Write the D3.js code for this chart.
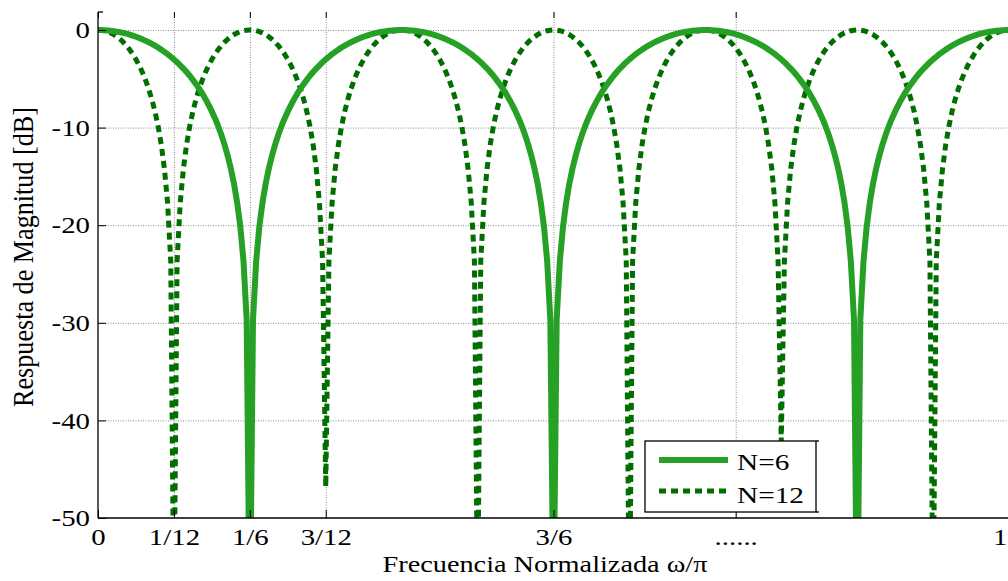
<!DOCTYPE html>
<html>
<head>
<meta charset="utf-8">
<script src="https://cdn.jsdelivr.net/npm/d3@7"></script>
<style>
  body { margin: 0; background: #fff; }
  svg { display: block; }
  text { font-family: "Liberation Serif", "Times New Roman", serif; fill: #000; }
</style>
</head>
<body>
<svg id="chart" width="1008" height="581"></svg>
<script>
// Magnitude response in dB, sampled uniformly over the normalized frequency 0..1 (289 samples)
const magN6 = [
  0,
  -0.01, -0.02, -0.04, -0.07, -0.12, -0.17, -0.23, -0.30, -0.38, -0.47, -0.58, -0.69, -0.81, -0.95, -1.09, -1.25,
  -1.42, -1.60, -1.80, -2.01, -2.24, -2.48, -2.74, -3.01, -3.30, -3.62, -3.95, -4.31, -4.69, -5.11, -5.55, -6.02,
  -6.53, -7.09, -7.69, -8.34, -9.06, -9.86, -10.74, -11.74, -12.88, -14.20, -15.76, -17.69, -20.17, -23.69, -29.70,
  -62,
  -29.70, -23.69, -20.17, -17.69, -15.76, -14.20, -12.88, -11.74, -10.74, -9.86, -9.06, -8.34, -7.69, -7.09, -6.53, -6.02,
  -5.55, -5.11, -4.69, -4.31, -3.95, -3.62, -3.30, -3.01, -2.74, -2.48, -2.24, -2.01, -1.80, -1.60, -1.42, -1.25,
  -1.09, -0.95, -0.81, -0.69, -0.58, -0.47, -0.38, -0.30, -0.23, -0.17, -0.12, -0.07, -0.04, -0.02, -0.01,
  0,
  -0.01, -0.02, -0.04, -0.07, -0.12, -0.17, -0.23, -0.30, -0.38, -0.47, -0.58, -0.69, -0.81, -0.95, -1.09, -1.25,
  -1.42, -1.60, -1.80, -2.01, -2.24, -2.48, -2.74, -3.01, -3.30, -3.62, -3.95, -4.31, -4.69, -5.11, -5.55, -6.02,
  -6.53, -7.09, -7.69, -8.34, -9.06, -9.86, -10.74, -11.74, -12.88, -14.20, -15.76, -17.69, -20.17, -23.69, -29.70,
  -60,
  -29.70, -23.69, -20.17, -17.69, -15.76, -14.20, -12.88, -11.74, -10.74, -9.86, -9.06, -8.34, -7.69, -7.09, -6.53, -6.02,
  -5.55, -5.11, -4.69, -4.31, -3.95, -3.62, -3.30, -3.01, -2.74, -2.48, -2.24, -2.01, -1.80, -1.60, -1.42, -1.25,
  -1.09, -0.95, -0.81, -0.69, -0.58, -0.47, -0.38, -0.30, -0.23, -0.17, -0.12, -0.07, -0.04, -0.02, -0.01,
  0,
  -0.01, -0.02, -0.04, -0.07, -0.12, -0.17, -0.23, -0.30, -0.38, -0.47, -0.58, -0.69, -0.81, -0.95, -1.09, -1.25,
  -1.42, -1.60, -1.80, -2.01, -2.24, -2.48, -2.74, -3.01, -3.30, -3.62, -3.95, -4.31, -4.69, -5.11, -5.55, -6.02,
  -6.53, -7.09, -7.69, -8.34, -9.06, -9.86, -10.74, -11.74, -12.88, -14.20, -15.76, -17.69, -20.17, -23.69, -29.70,
  -63,
  -29.70, -23.69, -20.17, -17.69, -15.76, -14.20, -12.88, -11.74, -10.74, -9.86, -9.06, -8.34, -7.69, -7.09, -6.53, -6.02,
  -5.55, -5.11, -4.69, -4.31, -3.95, -3.62, -3.30, -3.01, -2.74, -2.48, -2.24, -2.01, -1.80, -1.60, -1.42, -1.25,
  -1.09, -0.95, -0.81, -0.69, -0.58, -0.47, -0.38, -0.30, -0.23, -0.17, -0.12, -0.07, -0.04, -0.02, -0.01,
  0
];

const magN12 = [
  0,
  -0.02, -0.07, -0.17, -0.30, -0.47, -0.69, -0.95, -1.25, -1.60, -2.01, -2.48, -3.01, -3.62, -4.31, -5.11, -6.02,
  -7.09, -8.34, -9.86, -11.74, -14.20, -17.69, -23.69,
  -61,
  -23.69, -17.69, -14.20, -11.74, -9.86, -8.34, -7.09, -6.02, -5.11, -4.31, -3.62, -3.01, -2.48, -2.01, -1.60, -1.25,
  -0.95, -0.69, -0.47, -0.30, -0.17, -0.07, -0.02,
  0,
  -0.02, -0.07, -0.17, -0.30, -0.47, -0.69, -0.95, -1.25, -1.60, -2.01, -2.48, -3.01, -3.62, -4.31, -5.11, -6.02,
  -7.09, -8.34, -9.86, -11.74, -14.20, -17.69, -23.69,
  -46.8,
  -23.69, -17.69, -14.20, -11.74, -9.86, -8.34, -7.09, -6.02, -5.11, -4.31, -3.62, -3.01, -2.48, -2.01, -1.60, -1.25,
  -0.95, -0.69, -0.47, -0.30, -0.17, -0.07, -0.02,
  0,
  -0.02, -0.07, -0.17, -0.30, -0.47, -0.69, -0.95, -1.25, -1.60, -2.01, -2.48, -3.01, -3.62, -4.31, -5.11, -6.02,
  -7.09, -8.34, -9.86, -11.74, -14.20, -17.69, -23.69,
  -60,
  -23.69, -17.69, -14.20, -11.74, -9.86, -8.34, -7.09, -6.02, -5.11, -4.31, -3.62, -3.01, -2.48, -2.01, -1.60, -1.25,
  -0.95, -0.69, -0.47, -0.30, -0.17, -0.07, -0.02,
  0,
  -0.02, -0.07, -0.17, -0.30, -0.47, -0.69, -0.95, -1.25, -1.60, -2.01, -2.48, -3.01, -3.62, -4.31, -5.11, -6.02,
  -7.09, -8.34, -9.86, -11.74, -14.20, -17.69, -23.69,
  -62,
  -23.69, -17.69, -14.20, -11.74, -9.86, -8.34, -7.09, -6.02, -5.11, -4.31, -3.62, -3.01, -2.48, -2.01, -1.60, -1.25,
  -0.95, -0.69, -0.47, -0.30, -0.17, -0.07, -0.02,
  0,
  -0.02, -0.07, -0.17, -0.30, -0.47, -0.69, -0.95, -1.25, -1.60, -2.01, -2.48, -3.01, -3.62, -4.31, -5.11, -6.02,
  -7.09, -8.34, -9.86, -11.74, -14.20, -17.69, -23.69,
  -42.2,
  -23.69, -17.69, -14.20, -11.74, -9.86, -8.34, -7.09, -6.02, -5.11, -4.31, -3.62, -3.01, -2.48, -2.01, -1.60, -1.25,
  -0.95, -0.69, -0.47, -0.30, -0.17, -0.07, -0.02,
  0,
  -0.02, -0.07, -0.17, -0.30, -0.47, -0.69, -0.95, -1.25, -1.60, -2.01, -2.48, -3.01, -3.62, -4.31, -5.11, -6.02,
  -7.09, -8.34, -9.86, -11.74, -14.20, -17.69, -23.69,
  -61,
  -23.69, -17.69, -14.20, -11.74, -9.86, -8.34, -7.09, -6.02, -5.11, -4.31, -3.62, -3.01, -2.48, -2.01, -1.60, -1.25,
  -0.95, -0.69, -0.47, -0.30, -0.17, -0.07, -0.02,
  0
];

const xTickValues = [0, 1 / 12, 1 / 6, 3 / 12, 3 / 6, 0.7, 1];
const xTickLabels = ["0", "1/12", "1/6", "3/12", "3/6", "......", "1"];
const yTickValues = [0, -10, -20, -30, -40, -50];
const yTickLabels = ["0", "-10", "-20", "-30", "-40", "-50"];
const seriesNames = ["N=6", "N=12"];
const xTitle = "Frecuencia Normalizada \u03c9/\u03c0";
const yTitle = "Respuesta de Magnitud [dB]";

// sample positions along the frequency axis
const freq = d3.range(magN6.length).map(i => i / (magN6.length - 1));

const svg = d3.select("#chart");
const plotLeft = 98, plotRight = 1009, plotTop = 12, plotBottom = 518;
const x = d3.scaleLinear().domain([0, 1]).range([plotLeft, plotRight]);
const y = d3.scaleLinear().domain([-50, 0]).range([plotBottom, 30]);

const solidColor = "#26a126";
const dottedColor = "#006f00";
const widen = 1.2; // horizontal glyph stretch for the labels

function stretch(sel, k) {
  sel.each(function () {
    const w = this.getComputedTextLength();
    d3.select(this).attr("textLength", w * k).attr("lengthAdjust", "spacingAndGlyphs");
  });
}

// grid
const gx = svg.append("g").attr("transform", `translate(0,${plotBottom})`)
  .call(d3.axisBottom(x).tickValues(xTickValues.slice(1, -1)).tickSize(-(plotBottom - plotTop)).tickFormat(""));
gx.select(".domain").remove();
gx.selectAll("line").attr("stroke", "#8a8a8a").attr("stroke-dasharray", "1,1.5");

const gy = svg.append("g").attr("transform", `translate(${plotLeft},0)`)
  .call(d3.axisLeft(y).tickValues(yTickValues.slice(0, -1)).tickSize(-(plotRight - plotLeft)).tickFormat(""));
gy.select(".domain").remove();
gy.selectAll("line").attr("stroke", "#8a8a8a").attr("stroke-dasharray", "1,1.5");

// curves
svg.append("clipPath").attr("id", "plotClip")
  .append("rect").attr("x", plotLeft).attr("y", 0).attr("width", plotRight - plotLeft).attr("height", plotBottom);

const line = d3.line().x((d, i) => x(freq[i])).y(d => y(d));
const plot = svg.append("g").attr("clip-path", "url(#plotClip)");

plot.append("path").datum(magN12)
  .attr("d", line).attr("fill", "none")
  .attr("stroke", dottedColor).attr("stroke-width", 5)
  .attr("stroke-dasharray", "7,5").attr("stroke-linejoin", "round");

plot.append("path").datum(magN6)
  .attr("d", line).attr("fill", "none")
  .attr("stroke", solidColor).attr("stroke-width", 6)
  .attr("stroke-linejoin", "round");

// axes
const ax = svg.append("g").attr("transform", `translate(0,${plotBottom})`)
  .call(d3.axisBottom(x).tickValues(xTickValues).tickFormat((d, i) => xTickLabels[i])
    .tickSizeInner(-8).tickSizeOuter(0).tickPadding(10));
ax.select(".domain").remove();
ax.selectAll("line").attr("stroke", "#000");
ax.selectAll("text").attr("font-size", 24).attr("font-family", null).attr("fill", "#000");
stretch(ax.selectAll("text"), widen);
// keep the last label inside the right edge of the page
ax.selectAll("text").filter((d, i, n) => i === n.length - 1)
  .attr("text-anchor", "end").attr("x", 1007 - x(1));

const axTop = svg.append("g").attr("transform", `translate(0,${plotTop})`)
  .call(d3.axisTop(x).tickValues(xTickValues.slice(0, -1)).tickFormat("").tickSizeInner(-6).tickSizeOuter(0));
axTop.select(".domain").remove();
axTop.selectAll("line").attr("stroke", "#000");

const ay = svg.append("g").attr("transform", `translate(${plotLeft},0)`)
  .call(d3.axisLeft(y).tickValues(yTickValues).tickFormat((d, i) => yTickLabels[i])
    .tickSizeInner(-8).tickSizeOuter(0).tickPadding(8));
ay.select(".domain").remove();
ay.selectAll("line").attr("stroke", "#000");
ay.selectAll("text").attr("font-size", 24).attr("font-family", null).attr("fill", "#000");
stretch(ay.selectAll("text"), widen);

svg.append("line").attr("x1", plotLeft).attr("x2", plotRight).attr("y1", plotBottom).attr("y2", plotBottom)
  .attr("stroke", "#000").attr("stroke-width", 1.3);
svg.append("line").attr("x1", plotLeft).attr("x2", plotLeft).attr("y1", plotTop).attr("y2", plotBottom)
  .attr("stroke", "#000").attr("stroke-width", 1.3);
svg.append("line").attr("x1", plotLeft).attr("x2", plotLeft + 5).attr("y1", plotTop).attr("y2", plotTop)
  .attr("stroke", "#000").attr("stroke-width", 1.3);

// axis titles
svg.append("text").attr("x", 545).attr("y", 572).attr("text-anchor", "middle")
  .attr("font-size", 23).attr("textLength", 325).attr("lengthAdjust", "spacingAndGlyphs")
  .text(xTitle);

svg.append("text").attr("transform", `translate(33,257) scale(${widen},1) rotate(-90)`)
  .attr("text-anchor", "middle").attr("font-size", 24)
  .attr("textLength", 300).attr("lengthAdjust", "spacingAndGlyphs")
  .text(yTitle);

// legend
const lg = svg.append("g");
lg.append("rect").attr("x", 645).attr("y", 441).attr("width", 171).attr("height", 71)
  .attr("fill", "#fff").attr("stroke", "#000").attr("stroke-width", 1.3);
lg.append("line").attr("x1", 816).attr("x2", 819).attr("y1", 441).attr("y2", 441).attr("stroke", "#000").attr("stroke-width", 1.3);
lg.append("line").attr("x1", 816).attr("x2", 819).attr("y1", 512).attr("y2", 512).attr("stroke", "#000").attr("stroke-width", 1.3);
const legendRows = [
  { name: seriesNames[0], color: solidColor, width: 6, dash: null, ly: 460, ty: 470 },
  { name: seriesNames[1], color: dottedColor, width: 5, dash: "7,5", ly: 491, ty: 503 }
];
legendRows.forEach(r => {
  lg.append("line").attr("x1", 659).attr("x2", 728).attr("y1", r.ly).attr("y2", r.ly)
    .attr("stroke", r.color).attr("stroke-width", r.width)
    .attr("stroke-dasharray", r.dash);
  lg.append("text").attr("x", 737).attr("y", r.ty).attr("font-size", 24).text(r.name);
});
stretch(lg.selectAll("text"), 1.22);
</script>
</body>
</html>
